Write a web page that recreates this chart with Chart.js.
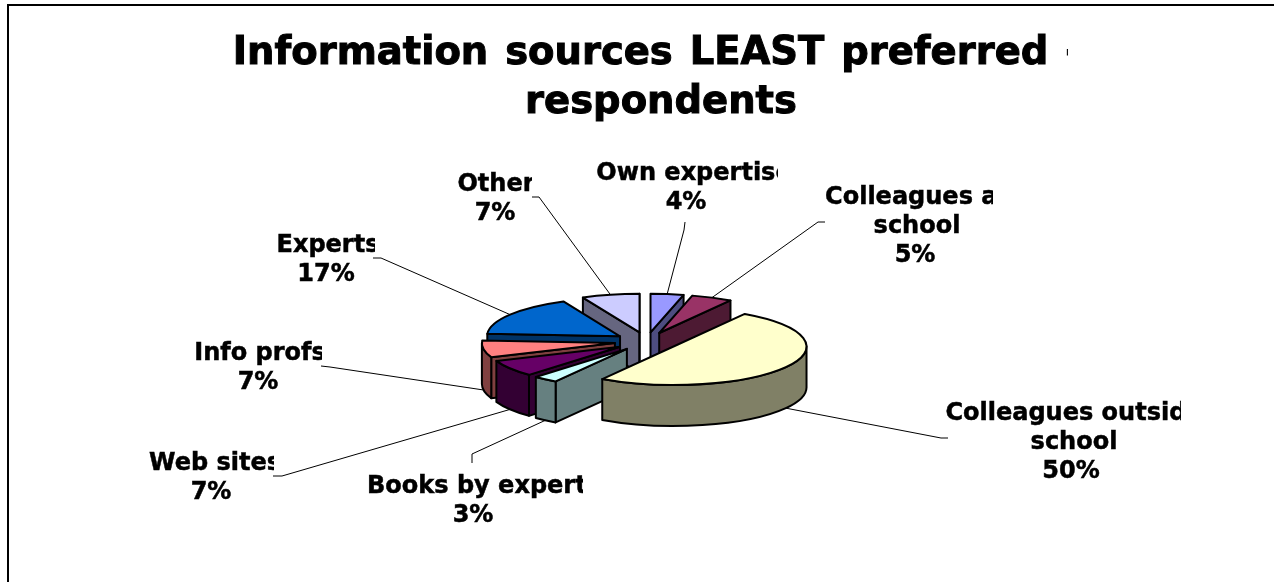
<!DOCTYPE html>
<html>
<head>
<meta charset="utf-8">
<title>Information sources</title>
<script src="https://cdn.jsdelivr.net/npm/chart.js@4/dist/chart.umd.min.js"></script>
<style>
  html, body { margin: 0; background: #fff; }
  canvas { display: block; }
</style>
</head>
<body>
<canvas id="pie3d" width="1274" height="582"></canvas>
<script>
const categories = [
  "Own expertise",
  ["Colleagues at", "school"],
  ["Colleagues outside", "school"],
  "Books by experts",
  "Web sites",
  "Info profs",
  "Experts",
  "Other"
];
const shares = [4, 5, 50, 3, 7, 7, 17, 7];
const topColors = ["#9999ff", "#993366", "#ffffcc", "#ccffff", "#660066", "#ff8080", "#0066cc", "#ccccff"];
const wallColors = ["#4d4d80", "#4d1a33", "#808066", "#668080", "#330033", "#804040", "#003366", "#666680"];

const titleLines = [
  { text: "Information sources LEAST preferred -", x: 657, y: 64, clip: 1068 },
  { text: "respondents", x: 661, y: 113, clip: 1274 }
];

// name centre, percent centre, first line middle, right clip edge, leader elbow and end
const labelSpots = [
  { x: 694, pctX: 686, y: 174, clip: 778, elbow: [684, 230], end: [685, 222] },
  { x: 917, pctX: 915, y: 198, clip: 993, elbow: [818, 222], end: [825, 222] },
  { x: 1074, pctX: 1071, y: 414, clip: 1181, elbow: [941, 438], end: [948, 438] },
  { x: 484, pctX: 473, y: 487, clip: 583, elbow: [472, 454], end: [472, 463] },
  { x: 215, pctX: 211, y: 464, clip: 274, elbow: [282, 476], end: [273, 476] },
  { x: 260, pctX: 258, y: 354, clip: 322, elbow: [330, 367], end: [321, 366] },
  { x: 328, pctX: 326, y: 246, clip: 375, elbow: [381, 258], end: [373, 258] },
  { x: 496, pctX: 495, y: 185, clip: 532, elbow: [539, 197], end: [532, 197] }
];

const pieTop = 341.5;
const tilt = 0.29;
const wallHeight = 41;
const explode = 32;
const labelLineGap = 29;

function sliceGeom(arc) {
  const { x, startAngle, endAngle, outerRadius } = arc;
  const mid = (startAngle + endAngle) / 2;
  return {
    start: startAngle,
    end: endAngle,
    mid,
    r: outerRadius,
    cx: x + Math.cos(mid) * explode,
    cy: pieTop + Math.sin(mid) * explode * tilt
  };
}

function rimPoint(g, angle) {
  return [g.cx + Math.cos(angle) * g.r, g.cy + Math.sin(angle) * g.r * tilt];
}

function lowestY(g) {
  let low = g.cy;
  const angles = [g.start, g.end];
  if (g.start < Math.PI / 2 && g.end > Math.PI / 2) angles.push(Math.PI / 2);
  angles.forEach(a => { low = Math.max(low, rimPoint(g, a)[1]); });
  return low;
}

function sideFace(ctx, g, angle) {
  const p = rimPoint(g, angle);
  ctx.beginPath();
  ctx.moveTo(g.cx, g.cy);
  ctx.lineTo(p[0], p[1]);
  ctx.lineTo(p[0], p[1] + wallHeight);
  ctx.lineTo(g.cx, g.cy + wallHeight);
  ctx.closePath();
  ctx.fill();
  ctx.stroke();
}

function drawSlice(ctx, arc, g, i) {
  ctx.save();
  ctx.lineWidth = 2;
  ctx.lineJoin = "round";
  ctx.strokeStyle = "#000";
  ctx.fillStyle = wallColors[i];

  // the radial faces that look towards the viewer
  if (Math.cos(g.start) < 0) sideFace(ctx, g, g.start);
  if (Math.cos(g.end) > 0) sideFace(ctx, g, g.end);

  // rim wall, front half only
  const a0 = Math.max(g.start, 0);
  const a1 = Math.min(g.end, Math.PI);
  if (a1 > a0) {
    ctx.beginPath();
    ctx.ellipse(g.cx, g.cy, g.r, g.r * tilt, 0, a0, a1);
    ctx.ellipse(g.cx, g.cy + wallHeight, g.r, g.r * tilt, 0, a1, a0, true);
    ctx.closePath();
    ctx.fill();
    ctx.stroke();
  }

  // top face: the library's arc, squashed and moved out from the centre
  ctx.save();
  ctx.translate(g.cx, g.cy);
  ctx.scale(1, tilt);
  ctx.translate(-arc.x, -arc.y);
  arc.draw(ctx);
  ctx.restore();

  ctx.beginPath();
  ctx.moveTo(g.cx, g.cy);
  ctx.ellipse(g.cx, g.cy, g.r, g.r * tilt, 0, g.start, g.end);
  ctx.closePath();
  ctx.stroke();
  ctx.restore();
}

function drawLeader(ctx, g, spot) {
  const p = rimPoint(g, g.mid);
  const y = Math.sin(g.mid) > 0 ? p[1] + wallHeight : p[1];
  ctx.beginPath();
  ctx.moveTo(p[0], y);
  ctx.lineTo(spot.elbow[0], spot.elbow[1]);
  ctx.lineTo(spot.end[0], spot.end[1]);
  ctx.lineWidth = 1;
  ctx.strokeStyle = "#000";
  ctx.stroke();
}

// heavy text, cut off at a right-hand edge
function clippedText(ctx, text, x, y, clip, weight) {
  ctx.save();
  ctx.beginPath();
  ctx.rect(0, 0, clip, 582);
  ctx.clip();
  ctx.lineWidth = weight;
  ctx.strokeStyle = "#000";
  ctx.strokeText(text, x, y);
  ctx.fillText(text, x, y);
  ctx.restore();
}

const pie3d = {
  id: "pie3d",
  beforeDatasetDraw(chart, args) {
    const ctx = chart.ctx;
    const arcs = chart.getDatasetMeta(args.index).data;
    arcs
      .map((arc, i) => ({ arc, i, g: sliceGeom(arc) }))
      .sort((a, b) => lowestY(a.g) - lowestY(b.g))
      .forEach(s => drawSlice(ctx, s.arc, s.g, s.i));
    return false;
  },
  afterDraw(chart) {
    const ctx = chart.ctx;
    const arcs = chart.getDatasetMeta(0).data;
    const total = shares.reduce((a, b) => a + b, 0);

    ctx.save();
    ctx.fillStyle = "#000";
    ctx.fillRect(7, 4, 1267, 2);
    ctx.fillRect(7, 4, 2, 578);

    arcs.forEach((arc, i) => drawLeader(ctx, sliceGeom(arc), labelSpots[i]));

    ctx.textAlign = "center";
    ctx.textBaseline = "alphabetic";
    ctx.font = "bold 38.5px 'DejaVu Sans'";
    ctx.wordSpacing = "3.5px";
    titleLines.forEach(l => clippedText(ctx, l.text, l.x, l.y, l.clip, 1));

    ctx.textBaseline = "middle";
    ctx.font = "bold 24px 'DejaVu Sans'";
    ctx.wordSpacing = "0px";
    categories.forEach((cat, i) => {
      const spot = labelSpots[i];
      [].concat(cat).forEach((t, n) => clippedText(ctx, t, spot.x, spot.y + n * labelLineGap, spot.clip, 0.5));
      const lineCount = [].concat(cat).length;
      const pct = Math.round(shares[i] / total * 100) + "%";
      clippedText(ctx, pct, spot.pctX, spot.y + lineCount * labelLineGap, spot.clip, 0.5);
    });
    ctx.restore();
  }
};

new Chart(document.getElementById("pie3d"), {
  type: "pie",
  data: {
    labels: categories,
    datasets: [{
      data: shares,
      backgroundColor: topColors,
      borderWidth: 0
    }]
  },
  options: {
    responsive: false,
    animation: false,
    radius: 133,
    layout: { padding: { left: 19 } },
    plugins: {
      legend: { display: false },
      tooltip: { enabled: false }
    }
  },
  plugins: [pie3d]
});
</script>
</body>
</html>
